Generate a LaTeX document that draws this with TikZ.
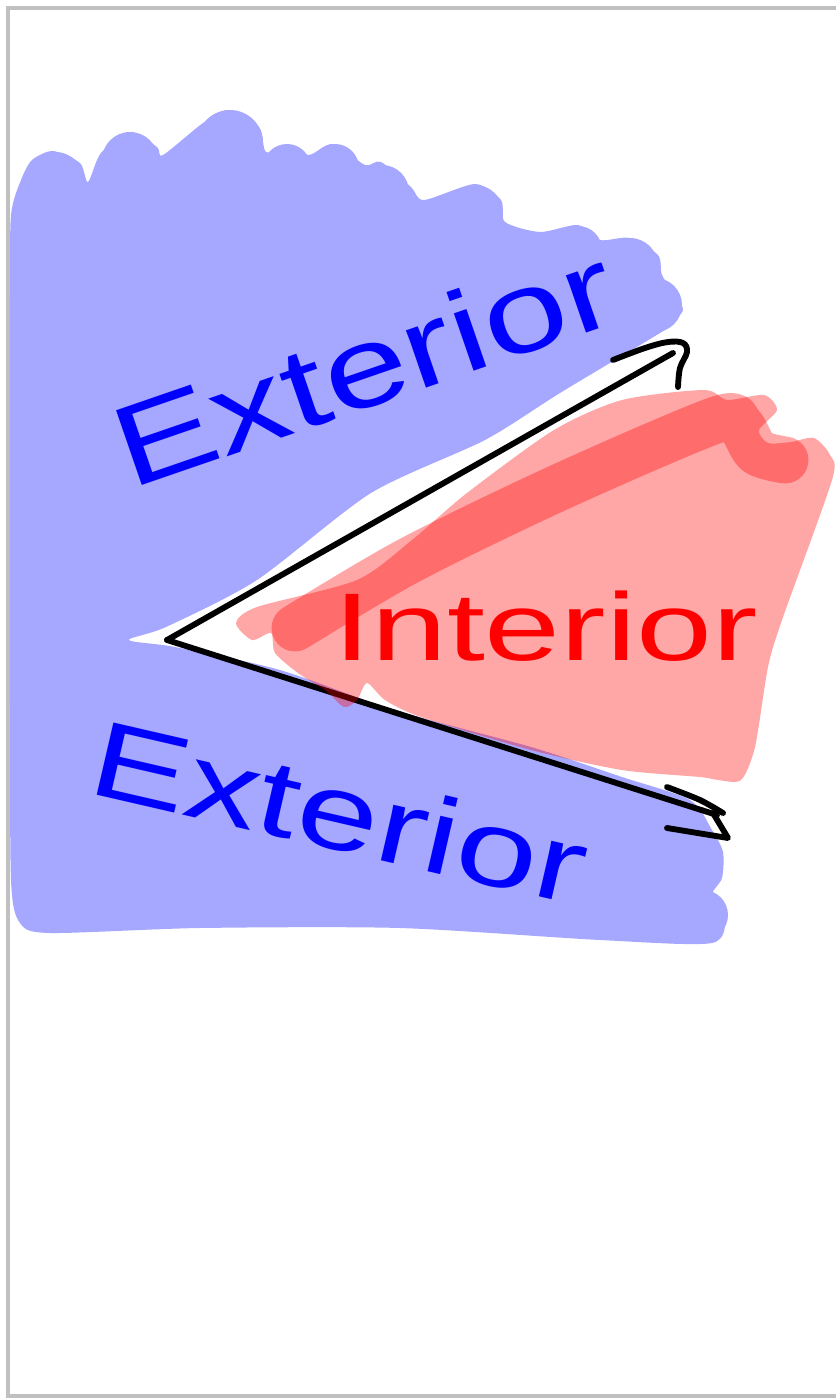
\documentclass[tikz,border=0pt]{standalone}
\usepackage{fontspec}
\setmainfont{Liberation Sans}
\usepackage{graphicx}
\usetikzlibrary{calc}
\definecolor{penBlue}{HTML}{0000FF}
\definecolor{penRed}{HTML}{FF0000}
\definecolor{wash}{HTML}{A6A8FF}
\definecolor{frame}{HTML}{C0C0C0}

\begin{document}
\begin{tikzpicture}[x=0.03cm,y=-0.03cm,
  ray/.style={draw=black, line width=5pt, line cap=round, line join=round},
  word/.style={inner sep=0pt, anchor=base west}]
  \useasboundingbox (0,0) rectangle (836,1398);
  % page frame
  \draw[frame, line width=3.4pt] (836,8) -- (8,8) -- (8,1396) -- (836,1396);

  % exterior wash
  \fill[wash] plot[smooth cycle, tension=0.45] coordinates {
    (11,215) (21,180) (32,160) (53,151) (80,163) (88,182) (101,153) (131,133)
    (157,147) (163,155) (203,123) (229,110) (259,127) (266,152) (288,147)
    (309,155) (333,144) (365,165) (381,162) (411,187) (424,200) (475,184)
    (501,200) (505,222) (540,232) (578,225) (600,240) (630,238) (658,255)
    (662,275) (675,295) (683,310) (670,325) (660,333) (560,393) (485,440)
    (371,493) (257,580) (166,627) (129,640) (175,647) (280,670) (394,710)
    (531,747) (622,777) (690,800) (712,830) (723,852) (722,878) (712,895)
    (725,915) (712,943) (600,940) (400,928) (200,928) (50,933) (20,923)
    (11,880) (10,700) (10,500) (10,300)};
  \foreach \cx/\cy/\r in {55/182/30, 130/160/28, 230/143/33, 287/168/24,
      335/168/24, 382/192/27, 475/213/28, 578/250/24, 630/266/28, 655/305/27,
      700/866/22, 703/915/25}
    \fill[wash] (\cx,\cy) circle (\r);

  % the angle
  \coordinate (V) at (167,640);
  \coordinate (A) at (673,353);
  \coordinate (B) at (717,815);
  \draw[ray] (V) -- (A);
  \draw[ray] (V) -- (B);
  \draw[ray, shift={(A)}] plot[smooth, tension=0.6] coordinates {
    (-60,7) (-28,-5) (-5,-11) (10,-10) (14,-1) (7,15) (5,34)};
  \draw[ray, shift={(B)}] plot[smooth, tension=0.5] coordinates {
    (-50,-28) (-17,-15) (6,-2)};
  \draw[ray, shift={(B)}] (-4,-2) -- (11,23) -- (-50,13);

  % interior wash
  \fill[penRed, opacity=0.35] plot[smooth cycle, tension=0.45] coordinates {
    (236,623) (257,607) (357,580) (412,540) (467,493) (554,430) (622,400)
    (704,390) (727,400) (764,395) (777,410) (759,430) (768,443) (791,442)
    (814,438) (830,455) (832,480) (782,620) (768,667) (755,747) (741,780)
    (718,780) (700,777) (622,770) (531,750) (421,717) (385,700) (367,683)
    (357,700) (344,707) (325,690) (298,673) (275,653) (271,633) (252,640)};
  \draw[penRed, opacity=0.35, line width=40pt, line cap=round, line join=round]
    plot[smooth, tension=0.5] coordinates {
    (295,628) (410,560) (560,487) (716,420) (740,425) (757,452) (785,460)};

  % labels
  \node[word, text=penBlue, rotate=19, font=\fontsize{98}{110}\selectfont]
    (extUp) at (130,490) {\scalebox{1.32}[1]{Exterior}};
  \node[word, text=penRed, font=\fontsize{82}{90}\selectfont]
    (intr) at (333,660) {\scalebox{1.42}[1]{Interior}};
  \node[word, text=penBlue, rotate=-13, font=\fontsize{92}{105}\selectfont]
    (extDown) at (85,792) {\scalebox{1.36}[1]{Exterior}};
\end{tikzpicture}
\end{document}
